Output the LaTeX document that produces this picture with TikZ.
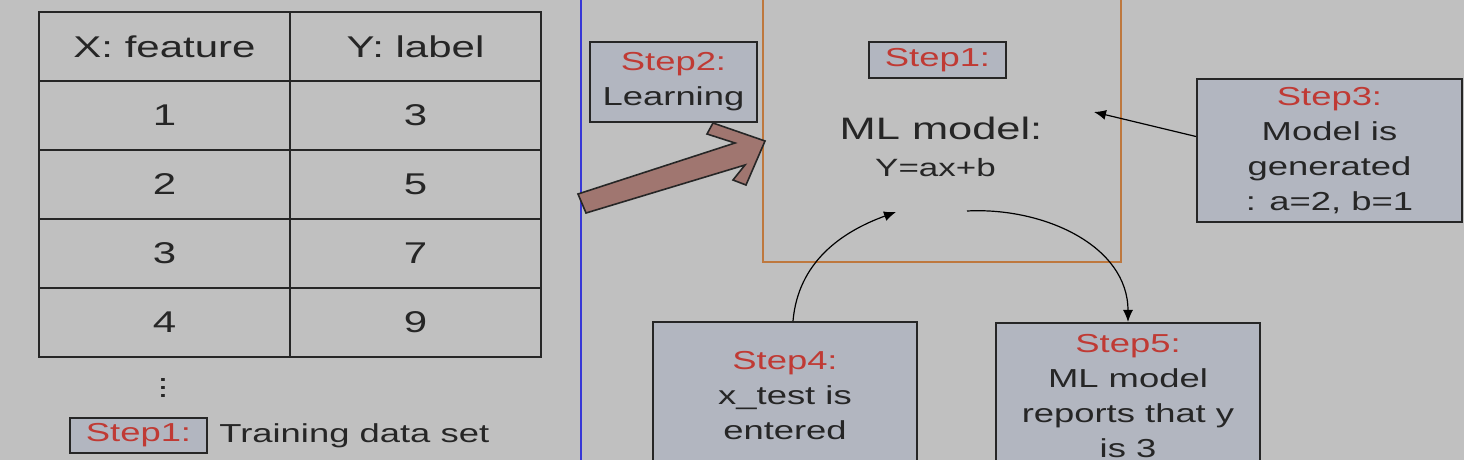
\documentclass[tikz,border=0pt]{standalone}
\usepackage{fontspec}
\setmainfont{Liberation Sans}[FakeStretch=1.4]
\usetikzlibrary{arrows.meta, positioning}

\definecolor{bggray}{RGB}{192,192,192}
\definecolor{boxgray}{RGB}{178,182,192}
\definecolor{steptxt}{RGB}{192,58,52}
\definecolor{inktxt}{RGB}{38,38,38}
\definecolor{modelline}{RGB}{190,120,62}
\definecolor{bluerule}{RGB}{55,55,215}
\definecolor{bigarrow}{RGB}{160,118,112}
\newcommand{\steplbl}[1]{\textcolor{steptxt}{#1}}

\begin{document}
\begin{tikzpicture}[x=0.5pt, y=-0.5pt, >={Latex[length=6pt,width=5pt]},
    cell/.style={draw=inktxt, line width=1pt, minimum width=125.5pt, minimum height=34.5pt, inner sep=0pt, text=inktxt, font=\fontsize{15}{18}\selectfont},
    stepbox/.style={draw=inktxt, line width=1pt, fill=boxgray, align=center, inner sep=0pt, text=inktxt, font=\fontsize{13}{17.5}\selectfont},
    link/.style={->, draw=black, line width=0.6pt}]
    % fondo
    \fill[bggray] (0,0) rectangle (1464,460);
    \useasboundingbox (0,0) rectangle (1464,460);

    % tabla de entrenamiento
    \node[cell] (hx) at (164.5,46.5) {X:\ feature};
    \node[cell] (hy) at (415.5,46.5) {Y:\ label};
    \foreach \i/\yv in {1/3,2/5,3/7,4/9}{
        \node[cell] (x\i) at (164.5,{46.5+69*\i}) {\i};
        \node[cell] (y\i) at (415.5,{46.5+69*\i}) {\yv};
    }
    \node[text=inktxt, font=\fontsize{14}{14}\selectfont] (dots) at (163,382) {$\vdots$};
    \node[stepbox, minimum width=68.5pt, minimum height=17.5pt] (legend) at (138.5,435.5) {\steplbl{Step1:}};
    \node[right=5.5pt of legend, inner sep=0pt, text=inktxt, font=\fontsize{13}{15}\selectfont] (legendtxt) {Training data set};

    % separador
    \draw[bluerule, line width=1pt] (581,0) -- (581,460);

    % modelo
    \node[draw=modelline, line width=1pt, minimum width=179pt, minimum height=136pt] (model) at (942,126) {};
    \node[stepbox, minimum width=68.5pt, minimum height=18pt] (mstep) at (937.5,60) {\steplbl{Step1:}};
    \node[text=inktxt, font=\fontsize{15.5}{18}\selectfont] (mltitle) at (941,128) {ML model:};
    \node[text=inktxt, font=\fontsize{12.5}{15}\selectfont] (mleq) at (935.5,168) {Y=ax+b};

    % pasos
    \node[stepbox, minimum width=83.5pt, minimum height=40pt] (learn) at (673.5,82) {\steplbl{Step2:}\\Learning};
    \node[stepbox, minimum width=132.5pt, minimum height=71.5pt] (gen) at (1329.5,150.5) {\steplbl{Step3:}\\Model is\\generated\\: a=2, b=1};
    \node[stepbox, minimum width=132pt, minimum height=74pt] (xtest) at (785,396) {\steplbl{Step4:}\\x\_test is\\entered};
    \node[stepbox, minimum width=132pt, minimum height=73.5pt] (report) at (1128,396.5) {\steplbl{Step5:}\\ML model\\reports that y\\is 3};

    % flecha gruesa
    \draw[fill=bigarrow, draw=inktxt, line width=0.8pt] (578,194) -- (735,143) -- (707,134) -- (713,123)
        -- (765,141) -- (746,185) -- (733,180) -- (745,165) -- (586,213) -- cycle;

    % conectores
    \coordinate (genin) at (1094,112);
    \coordinate (testin) at (896,212);
    \coordinate (repout) at (967,211);
    \draw[link] ([yshift=7pt]gen.west) -- (genin);
    \draw[link] ([xshift=4pt]xtest.north) to[out=85, in=200] (testin);
    \draw[link] (repout) to[out=3, in=90] (report.north);
\end{tikzpicture}
\end{document}
